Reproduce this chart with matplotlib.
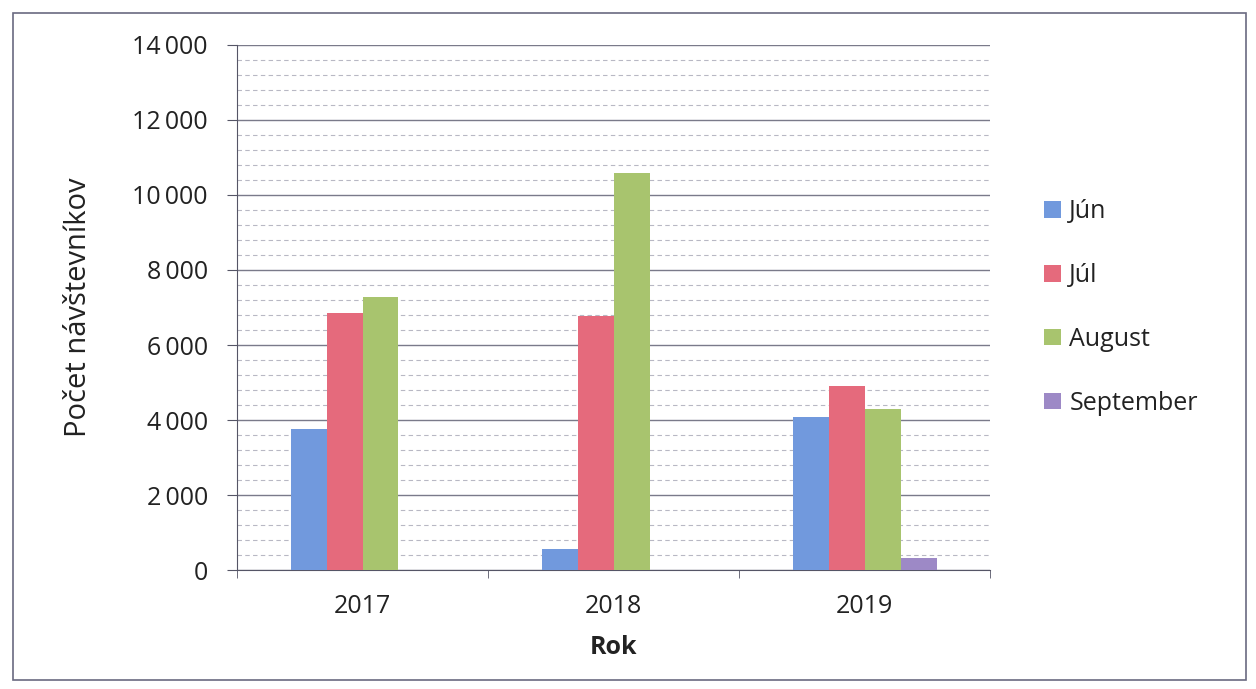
import numpy as np
import matplotlib
matplotlib.use("Agg")
import matplotlib.pyplot as plt
from matplotlib.patches import Rectangle

# data
years = ["2017", "2018", "2019"]
months = ["Jún", "Júl", "August", "September"]
jun = [3760, 550, 4070]
jul = [6860, 6780, 4910]
aug = [7270, 10580, 4290]
sep = [0, 0, 330]
colors = ["#7199dd", "#e56a7c", "#a8c46e", "#9d89c6"]

plt.rcParams['font.family'] = ['Open Sans', 'DejaVu Sans']

fig = plt.figure(figsize=(12.56, 6.89), dpi=100)
ax = fig.add_axes([0.1887, 0.1727, 0.5997, 0.762])

# figure border like the scanned frame
fig.patches.append(Rectangle((0.010, 0.013), 0.982, 0.968, transform=fig.transFigure,
                             fill=False, edgecolor="#6a6a80", linewidth=1.2))

x = np.arange(len(years))
w = 0.143
series = [jun, jul, aug, sep]
for i, vals in enumerate(series):
    ax.bar(x + (i - 1.5) * w, vals, width=w, color=colors[i], label=months[i], zorder=3)

ax.set_xlim(-0.5, 2.5)
ax.set_ylim(0, 14000)
ax.set_yticks(np.arange(0, 14001, 2000))
ax.set_yticks(np.arange(0, 14001, 400), minor=True)
ax.set_yticklabels([f"{v:,}".replace(",", "\u2009") if v else "0" for v in range(0, 14001, 2000)])
ax.set_xticks(x)
ax.set_xticklabels(years)
ax.set_xticks(np.arange(-0.5, 2.6, 1), minor=True)

ax.grid(axis="y", which="major", color="#7a7a8a", linewidth=1.0, zorder=0)
ax.grid(axis="y", which="minor", color="#b8b8c4", linewidth=0.8, linestyle=(0, (4, 3)), zorder=0)

for s in ["top", "right"]:
    ax.spines[s].set_visible(False)
ax.spines["left"].set_color("#555566")
ax.spines["bottom"].set_color("#555566")

ax.tick_params(axis="y", which="major", length=7, color="#555566", labelsize=18, pad=14, labelcolor="#222222")
ax.tick_params(axis="y", which="minor", length=0)
ax.tick_params(axis="x", which="major", length=0, labelsize=18, pad=17, labelcolor="#222222")
ax.tick_params(axis="x", which="minor", length=6, color="#555566")

ax.set_xlabel("Rok", fontsize=18, fontweight="bold", labelpad=12, color="#222222")
ax.set_ylabel("Počet návštevníkov", fontsize=21, labelpad=28, color="#222222")

ax.legend(loc="center left", bbox_to_anchor=(1.042, 0.50), frameon=False, fontsize=18,
          handlelength=0.65, handleheight=0.65, handletextpad=0.35, labelspacing=1.55,
          labelcolor="#222222")

fig.savefig("out.png", dpi=100)
